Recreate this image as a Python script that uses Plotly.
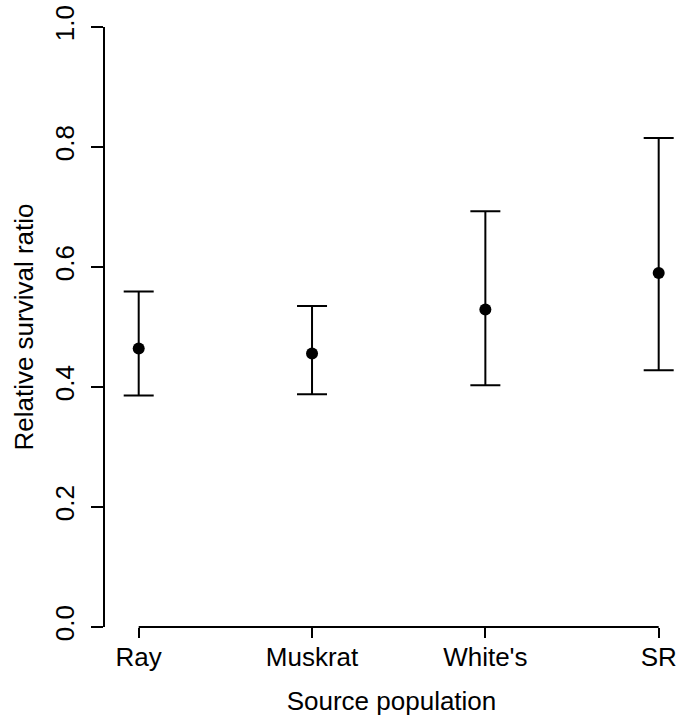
import plotly.graph_objects as go

# Data
populations = ["Ray", "Muskrat", "White's", "SR"]
ratio = [0.464, 0.456, 0.529, 0.590]
upper = [0.559, 0.535, 0.693, 0.815]
lower = [0.386, 0.388, 0.403, 0.428]
y_ticks = [0.0, 0.2, 0.4, 0.6, 0.8, 1.0]

err_plus = [u - m for u, m in zip(upper, ratio)]
err_minus = [m - l for m, l in zip(ratio, lower)]

FONT = "Liberation Sans, Arial, sans-serif"
FS = 26

fig = go.Figure()
fig.add_trace(go.Scatter(
    x=populations, y=ratio, mode="markers",
    marker=dict(color="black", size=12, symbol="circle"),
    error_y=dict(type="data", symmetric=False, array=err_plus, arrayminus=err_minus,
                 color="black", thickness=2, width=15),
    cliponaxis=False, showlegend=False,
))

# x axis line from first to last category (R-style detached axis)
fig.add_shape(type="line", xref="x", yref="paper",
              x0=populations[0], x1=populations[-1], y0=0, y1=0,
              line=dict(color="black", width=2), layer="above")

fig.update_layout(
    width=678, height=716,
    margin=dict(l=105, r=0, t=27, b=89),
    paper_bgcolor="white", plot_bgcolor="white",
    font=dict(family=FONT, size=FS, color="black"),
    xaxis=dict(
        type="category", range=[-0.1944, 3.1114], automargin=False,
        showline=False, showgrid=False, zeroline=False,
        ticks="outside", ticklen=10, tickwidth=2, tickcolor="black",
        tickfont=dict(size=FS), ticklabelstandoff=-3, ticklabeloverflow="allow",
        title=dict(text="Source population", font=dict(size=FS), standoff=20),
    ),
    yaxis=dict(
        range=[0, 1], tickvals=y_ticks, tickformat=".1f", automargin=False,
        showline=True, linecolor="black", linewidth=2,
        showgrid=False, zeroline=False,
        ticks="outside", ticklen=12, tickwidth=2, tickcolor="black",
        tickangle=-90, tickfont=dict(size=FS), ticklabelstandoff=7,
        ticklabeloverflow="allow",
        title=dict(text="Relative survival ratio", font=dict(size=FS), standoff=8),
    ),
)

# remove the default 8px page margin so the 678x716 figure fills the window exactly
fig.write_html("out.html", config={"displayModeBar": False},
               post_script="document.body.style.margin='0';")
